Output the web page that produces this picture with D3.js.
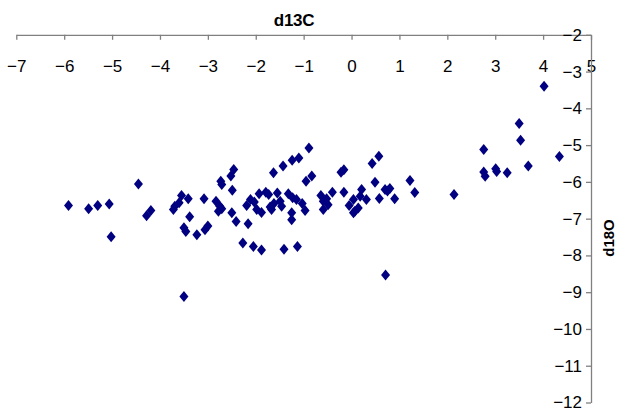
<!DOCTYPE html>
<html>
<head>
<meta charset="utf-8">
<script src="https://cdn.jsdelivr.net/npm/d3@7"></script>
<style>
  html, body { margin: 0; padding: 0; background: #fff; }
  svg { display: block; font-family: Arial, "Liberation Sans", sans-serif; }
</style>
</head>
<body>
<svg id="chart" width="617" height="416"></svg>
<script>
const xTitle = "d13C";
const yTitle = "d18O";
const xTicks = [-7, -6, -5, -4, -3, -2, -1, 0, 1, 2, 3, 4, 5];
const yTicks = [-2, -3, -4, -5, -6, -7, -8, -9, -10, -11, -12];

const d13C = [
  -5.91, -5.49, -5.30, -5.06, -5.02, -4.45, -4.28, -4.19, -3.72, -3.69,
  -3.60, -3.55, -3.41, -3.38, -3.50, -3.46, -3.23, -3.08, -3.06, -3.00,
  -3.50, -2.83, -2.75, -2.78, -2.71, -2.73, -2.71, -2.52, -2.46, -2.49,
  -2.50, -2.41, -2.16, -2.27, -2.05, -1.88, -1.63, -1.43, -1.24, -1.10,
  -0.89, -2.19, -2.11, -2.03, -1.93, -1.98, -1.88, -1.79, -1.73, -1.70,
  -1.67, -1.62, -1.55, -1.49, -1.46, -1.32, -1.23, -1.25, -1.25, -1.03,
  -0.97, -0.95, -0.83, -1.41, -1.13, -1.15, -0.64, -0.59, -0.52, -0.59,
  -0.49, -0.40, -0.22, -0.16, -0.16, -0.05, 0.04, 0.04, 0.07, 0.14,
  0.18, 0.21, 0.31, 0.43, 0.57, 0.49, 0.58, 0.70, 0.75, 0.90,
  0.71, 0.80, 1.22, 1.32, 2.14, 2.76, 2.76, 2.79, 3.01, 3.03,
  3.25, 3.50, 3.53, 3.69, 4.02, 4.34
];
const d18O = [
  -6.64, -6.73, -6.64, -6.60, -7.49, -6.06, -6.92, -6.78, -6.75, -6.66,
  -6.57, -6.37, -6.46, -6.95, -7.25, -7.35, -7.44, -6.46, -7.30, -7.20,
  -9.12, -6.53, -6.66, -6.80, -6.73, -5.98, -6.07, -5.84, -5.66, -6.23,
  -6.84, -7.08, -7.14, -7.66, -7.76, -7.85, -5.75, -5.57, -5.41, -5.35,
  -5.08, -6.64, -6.48, -6.55, -6.32, -6.75, -6.83, -6.28, -6.34, -6.68,
  -6.75, -6.59, -6.30, -6.53, -6.66, -6.32, -6.43, -6.84, -7.03, -6.59,
  -6.78, -5.98, -5.84, -7.83, -7.76, -6.48, -6.37, -6.53, -6.46, -6.75,
  -6.62, -6.28, -5.74, -5.67, -6.28, -6.64, -6.48, -6.84, -6.80, -6.71,
  -6.39, -6.21, -6.48, -5.50, -5.30, -6.01, -6.45, -6.21, -6.25, -6.46,
  -8.53, -6.18, -5.96, -6.29, -6.34, -5.12, -5.73, -5.85, -5.64, -5.72,
  -5.75, -4.41, -4.87, -5.57, -3.40, -5.31
];

const svg = d3.select("#chart");
const x = d3.scaleLinear().domain([-7, 5]).range([16.3, 591]);
const y = d3.scaleLinear().domain([-2, -12]).range([34.8, 402.5]);
const axisColor = "#808080";
const fontFam = "Arial, 'Liberation Sans', sans-serif";

// X axis at top (crosses y = -2), ticks pointing down, labels below
const gx = svg.append("g")
  .attr("transform", `translate(0,${y(-2)})`)
  .call(d3.axisBottom(x).tickValues(xTicks).tickSize(5).tickSizeOuter(0).tickPadding(20.4)
    .tickFormat(d3.format("d")));
gx.select(".domain").attr("stroke", axisColor).attr("stroke-width", 1.3);
gx.selectAll(".tick line").attr("stroke", axisColor).attr("stroke-width", 1.3);
gx.selectAll(".tick text").attr("font-size", 17).attr("fill", "#000")
  .attr("font-family", fontFam);

// Y axis at right (crosses x = 5), ticks pointing left, labels left
const gy = svg.append("g")
  .attr("transform", `translate(${x(5)},0)`)
  .call(d3.axisLeft(y).tickValues(yTicks).tickSize(5).tickSizeOuter(0).tickPadding(4)
    .tickFormat(d3.format("d")));
gy.select(".domain").attr("stroke", axisColor).attr("stroke-width", 1.3);
gy.selectAll(".tick line").attr("stroke", axisColor).attr("stroke-width", 1.3);
gy.selectAll(".tick text").attr("font-size", 17).attr("fill", "#000")
  .attr("font-family", fontFam);

// Titles
svg.append("text")
  .attr("x", 294).attr("y", 26)
  .attr("text-anchor", "middle")
  .attr("font-family", fontFam)
  .attr("font-size", 17).attr("font-weight", "bold")
  .attr("letter-spacing", "-0.3")
  .text(xTitle);

svg.append("text")
  .attr("transform", `translate(614,238) rotate(-90)`)
  .attr("text-anchor", "middle")
  .attr("font-family", fontFam)
  .attr("font-size", 15).attr("font-weight", "bold")
  .text(yTitle);

// Points
const pts = d13C.map((v, i) => ({ c: v, o: d18O[i] }));
svg.append("g").selectAll("path")
  .data(pts)
  .join("path")
  .attr("transform", d => `translate(${x(d.c)},${y(d.o)})`)
  .attr("d", "M0,-5.5L4.5,0L0,5.5L-4.5,0Z")
  .attr("fill", "#000080");
</script>
</body>
</html>
